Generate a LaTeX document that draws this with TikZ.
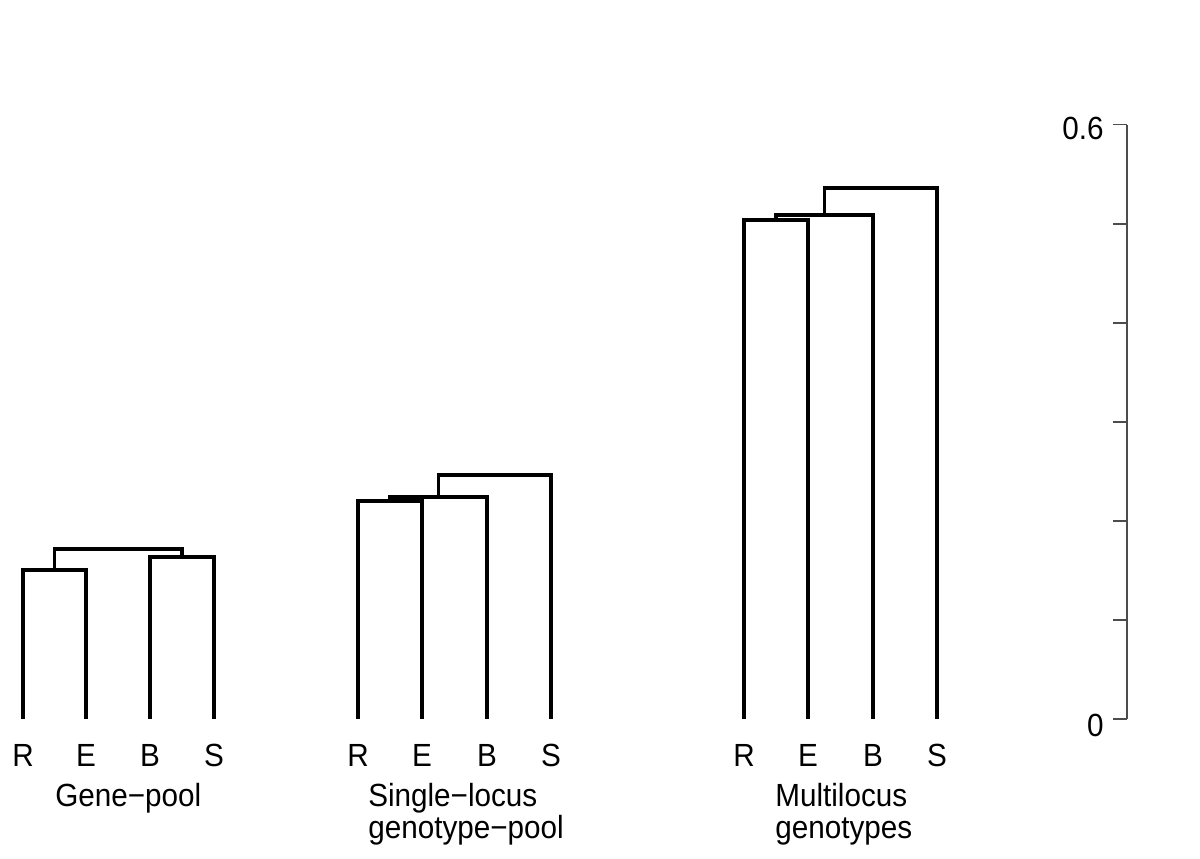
\documentclass[tikz,border=0pt]{standalone}
\usepackage{fontspec}
\setmainfont{Liberation Sans}
\tikzset{
  branch/.style={line width=2.8pt, line join=miter},
  scaleline/.style={line width=0.9pt, black!70},
  lbl/.style={anchor=base, inner sep=0pt, yscale=1.08, transform shape,
    font=\fontsize{21.1}{25}\selectfont},
  title/.style={lbl, anchor=base west},
}
\begin{document}
\begin{tikzpicture}[x=0.025cm, y=0.025cm]
\useasboundingbox (0,0) rectangle (1200,858);
\begin{scope}[shift={(0,139)}, y=24.75cm]
\draw[branch] (23,0) |- (86,0.1505) -- (86,0);
\draw[branch] (150,0) |- (214,0.164) -- (214,0);
\draw[branch] (54.5,0.1505) |- (182,0.1714) -- (182,0.164);
\draw[branch] (358,0) |- (422,0.2199) -- (422,0);
\draw[branch] (390,0.2199) |- (487,0.2245) -- (487,0);
\draw[branch] (438.5,0.2245) |- (551,0.2468) -- (551,0);
\draw[branch] (744,0) |- (808,0.504) -- (808,0);
\draw[branch] (776,0.504) |- (873,0.5088) -- (873,0);
\draw[branch] (824.5,0.5088) |- (937,0.536) -- (937,0);
\draw[scaleline] (1127,0) -- (1127,0.6);
\foreach \i in {0,...,6}
  \draw[scaleline] (1113,\i/10) -- (1127,\i/10);
\end{scope}
\foreach \x/\n in {23/R,86/E,150/B,214/S}
  \node[lbl] (g\n) at (\x,92) {\n};
\foreach \x/\n in {358/R,422/E,487/B,551/S}
  \node[lbl] (s\n) at (\x,92) {\n};
\foreach \x/\n in {744/R,808/E,873/B,937/S}
  \node[lbl] (m\n) at (\x,92) {\n};
\node[title] (gene) at (55,52) {Gene−pool};
\node[title] (single) at (368,52) {Single−locus};
\node[title] (single2) at (368,20) {genotype−pool};
\node[title] (multi) at (775,52) {Multilocus};
\node[title] (multi2) at (775,20) {genotypes};
\node[lbl, anchor=east] (top) at (1104,730) {0.6};
\node[lbl, anchor=east] (zero) at (1104,132.5) {0};
\end{tikzpicture}
\end{document}
